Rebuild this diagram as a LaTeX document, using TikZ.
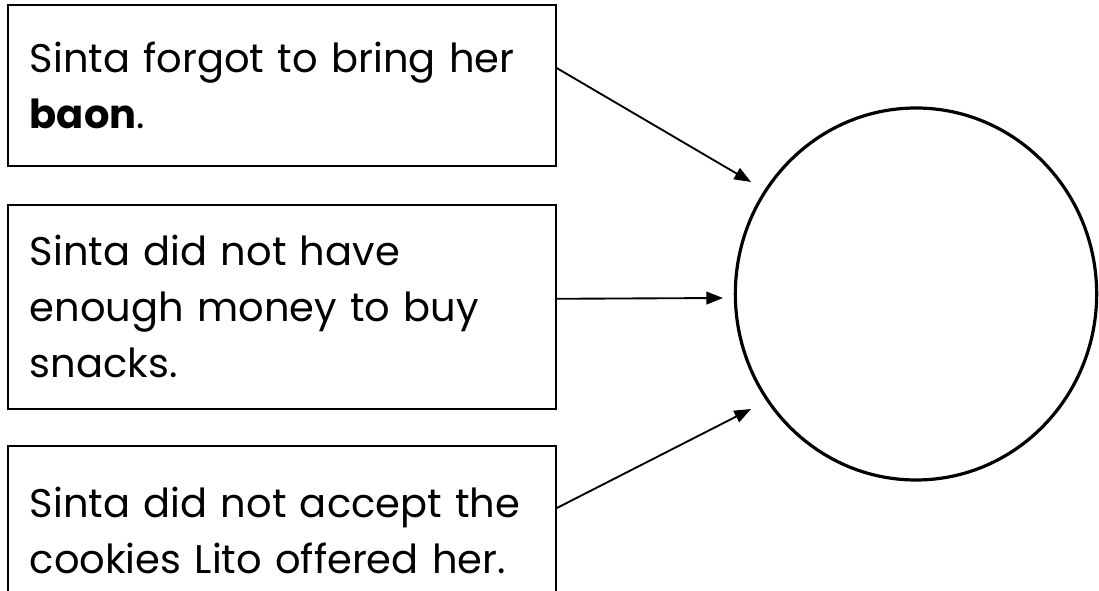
\documentclass[tikz,border=0pt]{standalone}
\usepackage{fontspec}
\setmainfont{Poppins}
\usetikzlibrary{arrows.meta, positioning, shapes.geometric}

\begin{document}
\begin{tikzpicture}[x=0.75pt, y=-0.75pt,
    reasonbox/.style={draw, line width=1.2pt, anchor=north west, minimum width=411pt,
      text width=378pt, inner xsep=16.5pt, align=left, font=\fontsize{30}{42}\selectfont},
    link/.style={line width=1.4pt, -{Triangle[length=12.5pt, width=9.5pt]}}]
    \useasboundingbox (0,0) rectangle (1099,591);
    \clip (0,0) rectangle (1099,591);
    % the three reasons
    \node[reasonbox, minimum height=120.75pt] (forgot) at (7,4) {Sinta forgot to bring her\\ \textbf{baon}.};
    \node[reasonbox, minimum height=153pt] (money) at (7,204) {Sinta did not have\\ enough money to buy\\ snacks.};
    \node[reasonbox, minimum height=127.5pt] (cookies) at (7,445) {Sinta did not accept the\\ cookies Lito offered her.};
    % empty circle on the right
    \node[draw, ellipse, line width=2.4pt, minimum width=271pt, minimum height=279pt, inner sep=0pt] (result) at (916,294) {};
    \coordinate (tip1) at (751,182);
    \coordinate (tip2) at (723,298);
    \coordinate (tip3) at (751,409);
    \draw[link] ([yshift=13pt]forgot.east) -- (tip1);
    \draw[link] ([yshift=6pt]money.east) -- (tip2);
    \draw[link] ([yshift=17pt]cookies.east) -- (tip3);
  \end{tikzpicture}
\end{document}
